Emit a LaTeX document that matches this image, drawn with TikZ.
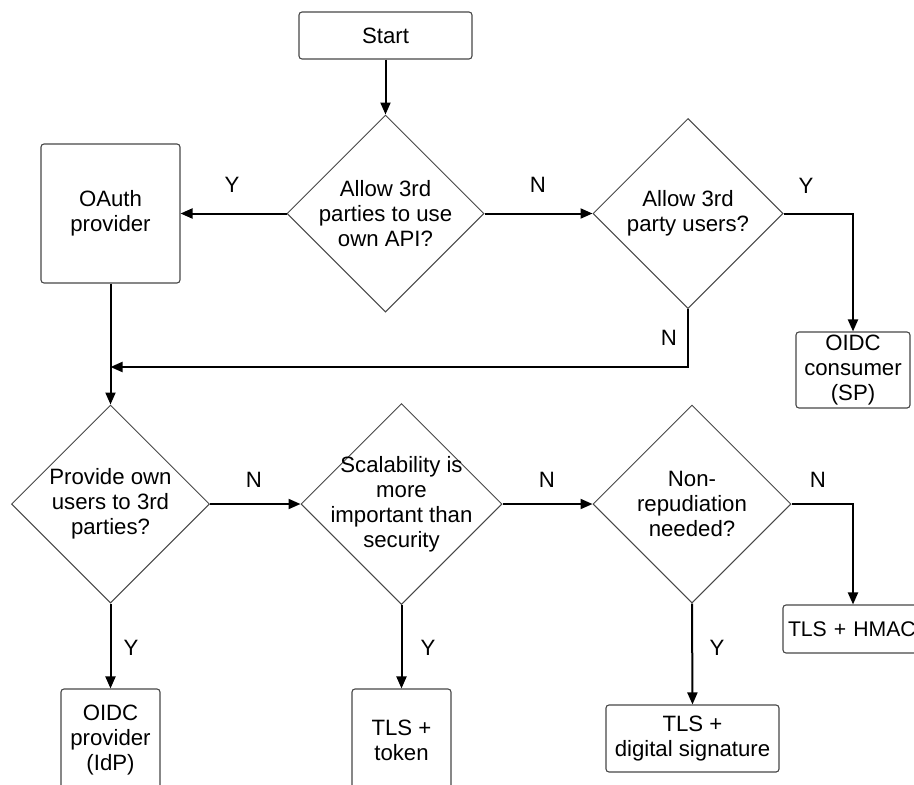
\documentclass[tikz,border=0pt]{standalone}
\usepackage{fontspec}
\setmainfont{Liberation Sans}
\usetikzlibrary{shapes.geometric,arrows.meta}
\begin{document}
\begin{tikzpicture}[x=1pt,y=-1pt,
  font=\fontsize{22.2}{25}\selectfont,
  box/.style={draw=black!72, line width=1.1pt, rounded corners=3pt,
    inner sep=0pt, align=center},
  decision/.style={diamond, draw=black!72, line width=1pt, inner sep=0pt,
    minimum width=#1, minimum height=#1},
  qtext/.style={align=center, inner sep=0pt},
  flow/.style={line width=2pt, -{Triangle[length=12pt,width=10pt]}},
  tag/.style={inner sep=0pt}]

\useasboundingbox (0,0) rectangle (914,785);
\clip (0,0) rectangle (914,785);

% start and first question
\node[box, minimum width=173pt, minimum height=47pt] (start) at (385.5,35.5) {Start};
\node[decision=197pt] (d1) at (385.5,213.5) {};
\node[qtext] (d1t) at (d1) {Allow 3rd\\parties to use\\own API?};

\node[box, minimum width=139pt, minimum height=139pt] (oauth) at (110.5,213.5) {OAuth\\provider};

\node[decision=190pt] (d2) at (688,213.5) {};
\node[qtext] (d2t) at (d2) {Allow 3rd\\party users?};

\node[box, minimum width=114pt, minimum height=76pt] (cons) at (853,370) {OIDC\\consumer\\(SP)};

\coordinate (join) at (110.5,367);

% second row of questions
\node[decision=198pt] (d3) at (110.5,504) {};
\node[qtext] (d3t) at (d3) {Provide own\\users to 3rd\\parties?};

\node[decision=201pt] (d4) at (401.5,504) {};
\node[qtext] (d4t) at (d4) {Scalability is\\more\\important than\\security};

\node[decision=198pt] (d5) at (692,504) {};
\node[qtext] (d5t) at (d5) {Non-\\repudiation\\needed?};

% outcomes
\node[box, minimum width=99pt, minimum height=102pt] (prov) at (110.5,740) {OIDC\\provider\\(IdP)};
\node[box, minimum width=99pt, minimum height=102pt] (tok) at (401.5,740) {TLS +\\token};
\node[box, minimum width=173pt, minimum height=67pt] (sig) at (692.5,738.5) {TLS +\\digital signature};
\node[box, minimum height=48pt, text width=130pt, align=left, inner xsep=5pt,
  font=\fontsize{21.2}{25}\selectfont] (hmac) at (853,629) {TLS + HMAC};

% connectors
\draw[flow] (start) -- (d1.north);
\draw[flow] (d1.west) -- (oauth.east);
\draw[flow] (d1.east) -- (d2.west);
\draw[flow] (d2.east) -| (cons.north);
\draw[flow] (d2.south) |- (join);
\draw[flow] (oauth.south) -- (d3.north);
\draw[flow] (d3.east) -- (d4.west);
\draw[flow] (d3.south) -- (prov.north);
\draw[flow] (d4.east) -- (d5.west);
\draw[flow] (d4.south) -- (tok.north);
\draw[flow] (d5.east) -| (hmac.north);
\draw[flow] (d5.south) -- (sig.north);

% branch labels
\node[tag] (l1) at (232,185) {Y};
\node[tag] (l2) at (538,185) {N};
\node[tag] (l3) at (806,186) {Y};
\node[tag] (l4) at (669,338) {N};
\node[tag] (l5) at (254,480) {N};
\node[tag] (l6) at (547,480) {N};
\node[tag] (l7) at (818,480) {N};
\node[tag] (l8) at (131,648) {Y};
\node[tag] (l9) at (428,648) {Y};
\node[tag] (l10) at (717,648) {Y};
\end{tikzpicture}
\end{document}
